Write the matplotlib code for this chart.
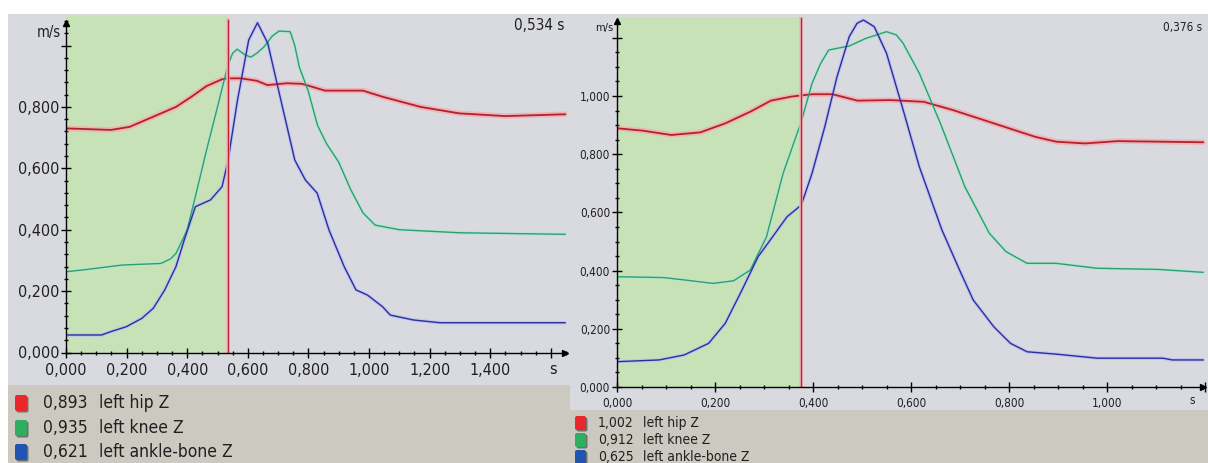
import matplotlib
matplotlib.use("Agg")
import matplotlib.pyplot as plt
from matplotlib.patches import Rectangle, FancyBboxPatch
from matplotlib.ticker import MultipleLocator, FixedLocator, FixedFormatter

# ---------------- data ----------------
# Left chart (cursor at 0,534 s)
L_cursor = 0.534
L_hip_t = [0, 0.148, 0.21, 0.288, 0.363, 0.414, 0.464, 0.515, 0.534, 0.578, 0.63, 0.665, 0.729,
           0.78, 0.855, 0.98, 1.045, 1.17, 1.297, 1.45, 1.647]
L_hip_v = [0.730, 0.725, 0.735, 0.768, 0.800, 0.833, 0.868, 0.890, 0.893, 0.893, 0.885, 0.871, 0.877,
           0.875, 0.853, 0.853, 0.833, 0.800, 0.779, 0.770, 0.776]
L_knee_t = [0, 0.073, 0.186, 0.313, 0.345, 0.363, 0.386, 0.40, 0.43, 0.464, 0.50, 0.534, 0.55, 0.565,
            0.59, 0.61, 0.63, 0.654, 0.68, 0.703, 0.74, 0.755, 0.77, 0.80, 0.83, 0.86, 0.90, 0.94,
            0.98, 1.02, 1.10, 1.30, 1.647]
L_knee_v = [0.263, 0.271, 0.285, 0.290, 0.305, 0.323, 0.370, 0.400, 0.520, 0.660, 0.800, 0.935, 0.975,
            0.988, 0.970, 0.962, 0.975, 0.996, 1.030, 1.047, 1.045, 1.000, 0.930, 0.850, 0.740, 0.680,
            0.620, 0.530, 0.455, 0.415, 0.400, 0.390, 0.385]
L_ankle_t = [0, 0.117, 0.148, 0.199, 0.25, 0.288, 0.326, 0.363, 0.39, 0.427, 0.477, 0.515, 0.534,
             0.566, 0.603, 0.632, 0.666, 0.704, 0.755, 0.79, 0.829, 0.868, 0.918, 0.957, 0.995,
             1.045, 1.07, 1.146, 1.234, 1.647]
L_ankle_v = [0.057, 0.057, 0.068, 0.084, 0.111, 0.144, 0.204, 0.280, 0.366, 0.475, 0.497, 0.540, 0.621,
             0.822, 1.018, 1.074, 1.007, 0.844, 0.627, 0.562, 0.519, 0.399, 0.280, 0.204, 0.187,
             0.149, 0.122, 0.106, 0.097, 0.097]
L_xticks = [0, 0.2, 0.4, 0.6, 0.8, 1.0, 1.2, 1.4, 1.6]
L_xlabels = ["0,000", "0,200", "0,400", "0,600", "0,800", "1,000", "1,200", "1,400", ""]
L_yticks = [0, 0.2, 0.4, 0.6, 0.8, 1.0]
L_ylabels = ["0,000", "0,200", "0,400", "0,600", "0,800", ""]
L_legend_vals = ["0,893", "0,935", "0,621"]

# Right chart (cursor at 0,376 s)
R_cursor = 0.376
R_hip_t = [0, 0.052, 0.111, 0.17, 0.221, 0.272, 0.314, 0.356, 0.376, 0.398, 0.44, 0.491, 0.558,
           0.626, 0.685, 0.769, 0.853, 0.896, 0.955, 1.022, 1.196]
R_hip_v = [0.889, 0.881, 0.866, 0.875, 0.906, 0.946, 0.984, 0.998, 1.002, 1.006, 1.006, 0.984, 0.986,
           0.980, 0.952, 0.906, 0.860, 0.843, 0.837, 0.845, 0.841]
R_knee_t = [0, 0.095, 0.137, 0.196, 0.238, 0.272, 0.305, 0.339, 0.376, 0.398, 0.415, 0.432, 0.474,
            0.508, 0.55, 0.57, 0.584, 0.617, 0.66, 0.71, 0.76, 0.794, 0.837, 0.896, 0.98, 1.106, 1.196]
R_knee_v = [0.379, 0.376, 0.368, 0.356, 0.365, 0.402, 0.516, 0.734, 0.912, 1.043, 1.110, 1.158, 1.172,
            1.198, 1.221, 1.210, 1.181, 1.078, 0.906, 0.688, 0.528, 0.465, 0.425, 0.425, 0.408, 0.404,
            0.394]
R_ankle_t = [0, 0.086, 0.137, 0.187, 0.221, 0.255, 0.288, 0.314, 0.347, 0.376, 0.398, 0.424, 0.449,
             0.474, 0.49, 0.503, 0.525, 0.55, 0.584, 0.617, 0.663, 0.702, 0.727, 0.769, 0.803, 0.837,
             0.896, 0.98, 1.114, 1.133, 1.196]
R_ankle_v = [0.087, 0.093, 0.110, 0.150, 0.219, 0.333, 0.448, 0.508, 0.585, 0.625, 0.734, 0.894, 1.066,
             1.204, 1.250, 1.261, 1.238, 1.147, 0.952, 0.757, 0.540, 0.391, 0.299, 0.207, 0.150, 0.121,
             0.113, 0.099, 0.099, 0.093, 0.093]
R_xticks = [0, 0.2, 0.4, 0.6, 0.8, 1.0, 1.2]
R_xlabels = ["0,000", "0,200", "0,400", "0,600", "0,800", "1,000", ""]
R_yticks = [0, 0.2, 0.4, 0.6, 0.8, 1.0, 1.2]
R_ylabels = ["0,000", "0,200", "0,400", "0,600", "0,800", "1,000", ""]
R_legend_vals = ["1,002", "0,912", "0,625"]

series_names = ["left hip Z", "left knee Z", "left ankle-bone Z"]

# ---------------- style ----------------
W, H = 1208, 463
PLOT_BG = '#D9DAE0'
LEG_BG = '#CCC9C1'
GREEN_BG = '#C8E2B8'
LINE_COLORS = ['#B4202E', '#2E9E72', '#28309C']
GLOW_COLORS = ['#F2AEB0', '#B4E6D2', '#BEBEF2']
LINE_W = [1.3, 1.0, 1.0]
GLOW_W = [4.0, 2.6, 2.6]
SQ_COLORS = ['#E8282A', '#2EAE5E', '#1F55B0']
FONT = dict(family='DejaVu Sans', stretch='condensed')

fig = plt.figure(figsize=(W / 100, H / 100), dpi=100)
fig.patch.set_facecolor('white')
bg = fig.add_axes([0, 0, 1, 1], zorder=0)
bg.set_xlim(0, W)
bg.set_ylim(H, 0)
bg.axis('off')

bg.add_patch(Rectangle((8, 14), 562, 371, fc=PLOT_BG, ec='none'))
bg.add_patch(Rectangle((8, 385), 562, 78, fc=LEG_BG, ec='none'))
bg.add_patch(Rectangle((570, 14), 638, 396, fc=PLOT_BG, ec='none'))
bg.add_patch(Rectangle((570, 410), 638, 53, fc=LEG_BG, ec='none'))


def px_axes(x0, x1, yb, yt):
    a = fig.add_axes([x0 / W, (H - yb) / H, (x1 - x0) / W, (yb - yt) / H], zorder=1)
    a.patch.set_alpha(0)
    return a


def setup(ax, xmax, ymax, xend, yend, cursor, xt, xl, yt, yl, xminor, yminor, fs, xpad):
    ax.set_xlim(0, xmax)
    ax.set_ylim(0, ymax)
    for s in ['top', 'right']:
        ax.spines[s].set_visible(False)
    ax.spines['left'].set_bounds(0, yend)
    ax.spines['bottom'].set_bounds(0, xend)
    for s in ['left', 'bottom']:
        ax.spines[s].set_color('black')
        ax.spines[s].set_linewidth(1.0)
        ax.spines[s].set_zorder(5)
    ax.xaxis.set_major_locator(FixedLocator(xt))
    ax.xaxis.set_major_formatter(FixedFormatter(xl))
    ax.yaxis.set_major_locator(FixedLocator(yt))
    ax.yaxis.set_major_formatter(FixedFormatter(yl))
    ax.xaxis.set_minor_locator(MultipleLocator(xminor))
    ax.yaxis.set_minor_locator(MultipleLocator(yminor))
    ax.tick_params(which='major', direction='inout', length=7, width=1, color='black')
    ax.tick_params(which='minor', direction='inout', length=3.5, width=1, color='black')
    ax.tick_params(axis='x', which='major', pad=xpad)
    ax.tick_params(axis='y', which='major', pad=1.5)
    for lab in ax.get_xticklabels() + ax.get_yticklabels():
        lab.set_fontfamily(FONT['family'])
        lab.set_fontstretch(FONT['stretch'])
        lab.set_fontsize(fs)
        lab.set_color('#202020')
    ax.plot([xend], [0], marker='>', color='black', ms=5, clip_on=False, zorder=6)
    ax.plot([0], [yend], marker='^', color='black', ms=5, clip_on=False, zorder=6)
    ax.axvspan(0, cursor, color=GREEN_BG, zorder=0, lw=0)
    top = min(1.0, (yend + 0.01) / ymax)
    ax.axvline(cursor, ymin=0, ymax=top, color='#F0B4B8', lw=2.6, zorder=3)
    ax.axvline(cursor, ymin=0, ymax=top, color='#BC2434', lw=1.0, zorder=3.1)


def draw_lines(ax, data):
    for (t, v), c, g, lw, gw in zip(data, LINE_COLORS, GLOW_COLORS, LINE_W, GLOW_W):
        ax.plot(t, v, color=g, lw=gw, alpha=0.8, zorder=2, solid_capstyle='round',
                solid_joinstyle='round')
        ax.plot(t, v, color=c, lw=lw, zorder=2.5, solid_joinstyle='round')


# Left chart
axL = px_axes(66, 568, 352.5, 16)
setup(axL, (568 - 66) / 303, (352.5 - 16) / 307, 1.647, 1.073, L_cursor,
      L_xticks, L_xlabels, L_yticks, L_ylabels, 0.05, 0.04, 11.5, 4.0)
draw_lines(axL, [(L_hip_t, L_hip_v), (L_knee_t, L_knee_v), (L_ankle_t, L_ankle_v)])

# Right chart
axR = px_axes(617, 1206, 387, 17)
setup(axR, (1206 - 617) / 490, (387 - 17) / 291, 1.196, 1.258, R_cursor,
      R_xticks, R_xlabels, R_yticks, R_ylabels, 0.05, 0.05, 8.5, 3.5)
draw_lines(axR, [(R_hip_t, R_hip_v), (R_knee_t, R_knee_v), (R_ankle_t, R_ankle_v)])

# Axis unit labels and cursor times
tk = dict(fontfamily=FONT['family'], fontstretch=FONT['stretch'], color='#202020', zorder=10)
bg.text(61, 32, 'm/s', ha='right', va='center', fontsize=10.5, **tk)
bg.text(553, 370, 's', ha='center', va='center', fontsize=11.5, **tk)
bg.text(565, 26, '0,534 s', ha='right', va='center', fontsize=11, **tk)
bg.text(613, 28, 'm/s', ha='right', va='center', fontsize=8, **tk)
bg.text(1192, 400, 's', ha='center', va='center', fontsize=8.5, **tk)
bg.text(1202, 28, '0,376 s', ha='right', va='center', fontsize=8.5, **tk)


def legend(x_sq, w_sq, h_sq, rows, x_val, x_name, fs, vals):
    for yc, col, val, name in zip(rows, SQ_COLORS, vals, series_names):
        bg.add_patch(FancyBboxPatch((x_sq + 1.5, yc - h_sq / 2 + 1.5), w_sq, h_sq,
                                    boxstyle='round,pad=0,rounding_size=2',
                                    fc='#333333', ec='none', alpha=0.6, zorder=3))
        bg.add_patch(FancyBboxPatch((x_sq, yc - h_sq / 2), w_sq, h_sq,
                                    boxstyle='round,pad=0,rounding_size=2',
                                    fc=col, ec='none', zorder=4))
        bg.text(x_val, yc, val, ha='left', va='center', fontsize=fs, **tk)
        bg.text(x_name, yc, name, ha='left', va='center', fontsize=fs, **tk)


legend(15, 12, 16, [403, 428, 452], 43, 99, 12.5, L_legend_vals)
legend(575, 11, 14, [423, 440, 457], 598, 643, 10, R_legend_vals)

fig.savefig('out.png', dpi=100, facecolor='white')
